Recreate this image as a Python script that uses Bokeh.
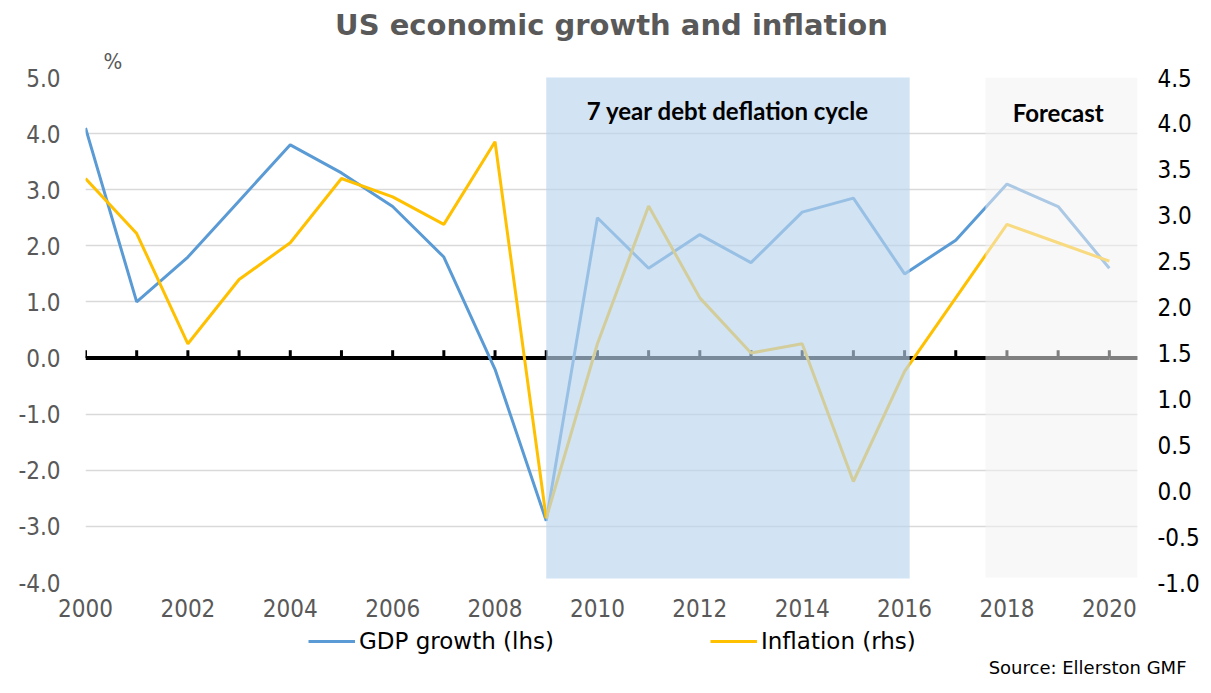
from bokeh.plotting import figure
from bokeh.layouts import column
from bokeh.models import (Range1d, LinearAxis, FixedTicker, BoxAnnotation, Label, Title,
                          Legend, LegendItem, NumeralTickFormatter, ColumnDataSource)
from bokeh.embed import file_html
from bokeh.resources import INLINE

# ---- data ----
years = list(range(2000, 2021))
gdp_growth = [4.1, 1.0, 1.8, 2.8, 3.8, 3.3, 2.7, 1.8, -0.2, -2.9, 2.5, 1.6, 2.2, 1.7,
              2.6, 2.85, 1.5, 2.1, 3.1, 2.7, 1.6]
inflation = [3.4, 2.8, 1.6, 2.3, 2.7, 3.4, 3.2, 2.9, 3.8, -0.3, 1.6, 3.1, 2.1, 1.5,
             1.6, 0.1, 1.3, 2.1, 2.9, 2.7, 2.5]
x_ticks = [2000, 2002, 2004, 2006, 2008, 2010, 2012, 2014, 2016, 2018, 2020]
left_ticks = [-4, -3, -2, -1, 0, 1, 2, 3, 4, 5]
right_ticks = [-1.0, -0.5, 0.0, 0.5, 1.0, 1.5, 2.0, 2.5, 3.0, 3.5, 4.0, 4.5]
zero_line = [0.0] * len(years)
debt_cycle = (2009, 2016.1)
forecast = (2017.58, 2020.55)

FONT = "DejaVu Sans Condensed"
GREY_TXT = "#595959"
GDP_COLOR = "#5B9BD5"
INF_COLOR = "#FFC000"

src = ColumnDataSource(dict(year=years, gdp=gdp_growth, infl=inflation, zero=zero_line))

p = figure(frame_width=1052, frame_height=505, output_backend="svg", toolbar_location=None,
           x_range=Range1d(2000, 2020.55), y_range=Range1d(-4, 5),
           min_border_left=85, min_border_right=58, min_border_top=77, min_border_bottom=44)
p.outline_line_color = None
p.background_fill_color = "white"
p.border_fill_color = "white"

p.extra_y_ranges = {"infl": Range1d(-1, 4.5)}

# grid
p.xgrid.visible = False
p.ygrid.ticker = FixedTicker(ticks=left_ticks)
p.ygrid.grid_line_color = "#D9D9D9"
p.ygrid.grid_line_width = 1.5

# axes
p.xaxis.ticker = FixedTicker(ticks=x_ticks)
p.xaxis.axis_line_color = None
p.xaxis.major_tick_line_color = None
p.xaxis.minor_tick_line_color = None
p.xaxis.major_label_text_font = FONT
p.xaxis.major_label_text_font_size = "24px"
p.xaxis.major_label_text_color = GREY_TXT
p.xaxis.major_label_standoff = 10

p.yaxis.ticker = FixedTicker(ticks=left_ticks)
p.yaxis.formatter = NumeralTickFormatter(format="0.0")
p.yaxis.axis_line_color = None
p.yaxis.major_tick_line_color = None
p.yaxis.minor_tick_line_color = None
p.yaxis.major_label_text_font = FONT
p.yaxis.major_label_text_font_size = "24px"
p.yaxis.major_label_text_color = GREY_TXT
p.yaxis.major_label_standoff = 19

raxis = LinearAxis(y_range_name="infl", ticker=FixedTicker(ticks=right_ticks),
                   formatter=NumeralTickFormatter(format="0.0"))
raxis.axis_line_color = None
raxis.major_tick_line_color = None
raxis.minor_tick_line_color = None
raxis.major_label_text_font = FONT
raxis.major_label_text_font_size = "24px"
raxis.major_label_text_color = "#000000"
raxis.major_label_standoff = 14
p.add_layout(raxis, "right")

# zero line with year ticks
p.line(x="year", y="zero", source=src, line_color="black", line_width=4)
p.segment(x0="year", y0="zero", x1="year", y1=0.14, source=src,
          line_color="black", line_width=3)
p.segment(x0=years[-1], y0=0, x1=2020.55, y1=0, line_color="black", line_width=4)

# series
p.line(x="year", y="gdp", source=src, line_color=GDP_COLOR, line_width=3)
p.line(x="year", y="infl", source=src, line_color=INF_COLOR, line_width=3,
       y_range_name="infl")

# shaded bands (drawn over lines, semi-transparent)
p.add_layout(BoxAnnotation(left=debt_cycle[0], right=debt_cycle[1], top=5.02, bottom=-3.93,
                           fill_color="#BAD4ED", fill_alpha=0.65, line_color=None))
p.add_layout(BoxAnnotation(left=forecast[0], right=forecast[1], top=5.0, bottom=-3.91,
                           fill_color="#F1F1F1", fill_alpha=0.53, line_color=None))

p.add_layout(Label(x=(debt_cycle[0] + debt_cycle[1]) / 2, y=4.41,
                   text="7 year debt deflation cycle", text_font="Lato",
                   text_font_style="bold", text_font_size="24px", text_color="black",
                   text_align="center", text_baseline="middle"))
p.add_layout(Label(x=forecast[0] + 1.42, y=4.38, text="Forecast",
                   text_font="Lato", text_font_style="bold", text_font_size="24px",
                   text_color="black", text_align="center", text_baseline="middle"))

# title
p.title.text = "US economic growth and inflation"
p.title.text_font = "DejaVu Sans"
p.title.text_font_size = "29px"
p.title.text_font_style = "bold"
p.title.text_color = GREY_TXT
p.title.align = "center"
p.title.standoff = 2

# "%" unit note above the left axis
p.add_layout(Title(text="%", align="left", offset=18, text_font=FONT,
                   text_font_size="22px", text_font_style="normal",
                   text_color=GREY_TXT, standoff=8), "above")

# ---- legend + source strip under the chart (frame aligned with the chart) ----
leg = figure(width=1195, height=51, output_backend="svg", toolbar_location=None,
             x_range=Range1d(0, 1052), y_range=Range1d(0, 30),
             min_border_left=85, min_border_right=58, min_border_top=0, min_border_bottom=21)
leg.axis.visible = False
leg.grid.visible = False
leg.outline_line_color = None
leg.background_fill_color = "white"
leg.border_fill_color = "white"

nan = float("nan")
r_gdp = leg.line(x=[nan], y=[nan], line_color=GDP_COLOR, line_width=3)
r_inf = leg.line(x=[nan], y=[nan], line_color=INF_COLOR, line_width=3)

legend = Legend(items=[LegendItem(label="GDP growth (lhs)", renderers=[r_gdp]),
                       LegendItem(label="Inflation (rhs)", renderers=[r_inf])],
                orientation="horizontal", location=(223, 0),
                label_text_font="DejaVu Sans", label_text_font_size="23px",
                label_text_color="black",
                glyph_width=47, glyph_height=20, label_standoff=4, spacing=156,
                padding=0, margin=0, border_line_alpha=0, background_fill_alpha=0)
leg.add_layout(legend, "center")

leg.add_layout(Title(text="Source: Ellerston GMF", align="right", offset=-56,
                     text_font="DejaVu Sans", text_font_size="18px",
                     text_font_style="normal", text_color="#000000", standoff=0), "below")

open("out.html", "w").write(file_html(column(p, leg), INLINE))
